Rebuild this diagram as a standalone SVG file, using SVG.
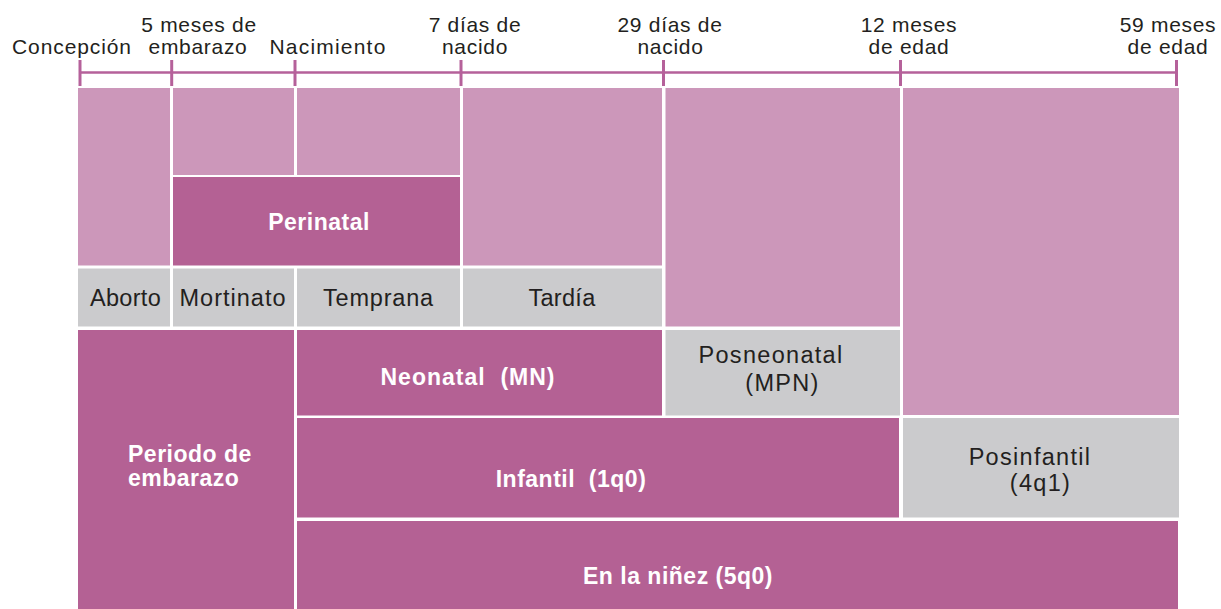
<svg xmlns="http://www.w3.org/2000/svg" width="1221" height="609" viewBox="0 0 1221 609">
<style>
.lt{fill:#CC97BA}
.dk{fill:#B46194}
.gr{fill:#CBCBCD}
.ax{stroke:#B5619A;fill:none}
.tl{font-family:"Liberation Sans",Arial,sans-serif;font-size:21px;fill:#231F20;text-anchor:middle;letter-spacing:0.7px}
.gl{font-family:"Liberation Sans",Arial,sans-serif;font-size:23.5px;fill:#231F20;text-anchor:middle;letter-spacing:0.8px}
.bl{font-family:"Liberation Sans",Arial,sans-serif;font-size:23px;font-weight:bold;fill:#FFFFFF;text-anchor:middle;letter-spacing:0.5px;white-space:pre}
</style>
<rect width="1221" height="609" fill="#FFFFFF"/>
<g id="connectors">
<line class="ax" x1="80" y1="72.5" x2="1177" y2="72.5" stroke-width="2.5"/>
<g stroke-width="3">
<line class="ax" x1="80" y1="60" x2="80" y2="86"/>
<line class="ax" x1="171.7" y1="60" x2="171.7" y2="86"/>
<line class="ax" x1="295" y1="60" x2="295" y2="86"/>
<line class="ax" x1="461" y1="60" x2="461" y2="86"/>
<line class="ax" x1="663.5" y1="60" x2="663.5" y2="86"/>
<line class="ax" x1="900.5" y1="60" x2="900.5" y2="86"/>
<line class="ax" x1="1176.5" y1="60" x2="1176.5" y2="86"/>
</g>
</g>
<g id="timeline-labels">
<text class="tl" x="72" y="54" style="letter-spacing:0.9px">Concepción</text>
<text class="tl" x="199" y="32">5 meses de</text>
<text class="tl" x="198" y="54">embarazo</text>
<text class="tl" x="328" y="54" style="letter-spacing:1.2px">Nacimiento</text>
<text class="tl" x="475" y="32">7 días de</text>
<text class="tl" x="475" y="54">nacido</text>
<text class="tl" x="670" y="32">29 días de</text>
<text class="tl" x="670.5" y="54">nacido</text>
<text class="tl" x="909" y="32">12 meses</text>
<text class="tl" x="909" y="54">de edad</text>
<text class="tl" x="1168" y="32">59 meses</text>
<text class="tl" x="1168" y="54">de edad</text>
</g>
<g id="fill-a"><rect class="lt" x="78" y="88" width="92" height="177.5"/></g>
<g id="fill-b"><rect class="lt" x="173" y="88" width="121" height="87"/></g>
<g id="fill-c"><rect class="lt" x="297" y="88" width="163" height="87"/></g>
<g id="fill-d"><rect class="lt" x="463" y="88" width="199" height="177.5"/></g>
<g id="fill-e"><rect class="lt" x="665.5" y="88" width="234.5" height="238.5"/></g>
<g id="fill-f"><rect class="lt" x="903" y="88" width="276" height="327"/></g>
<g id="perinatal">
<rect class="dk" x="173" y="177" width="287" height="88.5"/>
<text class="bl" x="319" y="230">Perinatal</text>
</g>
<g id="aborto">
<rect class="gr" x="78" y="268.5" width="92" height="58"/>
<text class="gl" x="125.5" y="305.5" style="letter-spacing:0.3px">Aborto</text>
</g>
<g id="mortinato">
<rect class="gr" x="173" y="268.5" width="121" height="58"/>
<text class="gl" x="233" y="305.5" style="letter-spacing:1px">Mortinato</text>
</g>
<g id="temprana">
<rect class="gr" x="297" y="268.5" width="163" height="58"/>
<text class="gl" x="378.5" y="305.5">Temprana</text>
</g>
<g id="tardia">
<rect class="gr" x="463" y="268.5" width="199" height="58"/>
<text class="gl" x="562" y="305.5" style="letter-spacing:0.3px">Tardía</text>
</g>
<g id="periodo-embarazo">
<rect class="dk" x="78" y="330" width="216" height="279"/>
<text class="bl" x="128" y="461.5" style="text-anchor:start">Periodo de</text>
<text class="bl" x="128" y="486" style="text-anchor:start">embarazo</text>
</g>
<g id="neonatal">
<rect class="dk" x="297" y="330" width="365" height="85.5"/>
<text class="bl" x="468" y="385" style="letter-spacing:1px">Neonatal  (MN)</text>
</g>
<g id="posneonatal">
<rect class="gr" x="665.5" y="330" width="234.5" height="85.5"/>
<text class="gl" x="771" y="363" style="letter-spacing:1.3px">Posneonatal</text>
<text class="gl" x="782.5" y="391" style="letter-spacing:1.3px">(MPN)</text>
</g>
<g id="infantil">
<rect class="dk" x="297" y="418" width="602" height="99.5"/>
<text class="bl" x="571" y="486.5">Infantil  (1q0)</text>
</g>
<g id="posinfantil">
<rect class="gr" x="903" y="418" width="276" height="99.5"/>
<text class="gl" x="1030" y="465" style="letter-spacing:1.3px">Posinfantil</text>
<text class="gl" x="1040.5" y="490.5" style="letter-spacing:1.3px">(4q1)</text>
</g>
<g id="ninez">
<rect class="dk" x="297" y="521" width="881" height="88"/>
<text class="bl" x="678" y="583.5">En la niñez (5q0)</text>
</g>
</svg>
